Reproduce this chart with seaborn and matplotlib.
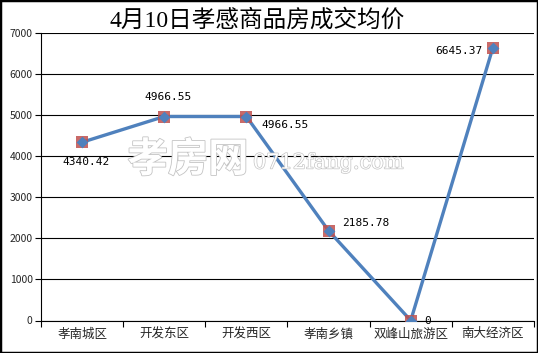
import matplotlib
matplotlib.use("Agg")
import matplotlib.pyplot as plt
import matplotlib.patheffects as pe
from matplotlib.patches import Rectangle
import seaborn as sns
import pandas as pd

categories = ["孝南城区", "开发东区", "开发西区", "孝南乡镇", "双峰山旅游区", "南大经济区"]
prices = [4340.42, 4966.55, 4966.55, 2185.78, 0, 6645.37]
label_texts = ["4340.42", "4966.55", "4966.55", "2185.78", "0", "6645.37"]
y_ticks = [0, 1000, 2000, 3000, 4000, 5000, 6000, 7000]
title = "4月10日孝感商品房成交均价"

sns.set_theme(style="white")
plt.rcParams['font.family'] = ['Noto Sans CJK SC', 'DejaVu Sans']

df = pd.DataFrame({"pos": range(len(categories)), "price": prices, "cat": categories})

fig = plt.figure(figsize=(5.38, 3.53), dpi=100)
fig.patch.set_facecolor("white")
ax = fig.add_axes([41/538, 1-320.5/353, 493/538, 287.5/353])
ax.set_facecolor("white")

# watermark
fig.text(188/538, 1-160/353, "孝房网", fontsize=29, fontweight="bold", color="white",
         ha="center", va="center", zorder=0.5,
         path_effects=[pe.withStroke(linewidth=1.2, foreground="#c4c4c4")])
fig.text(253/538, 1-163/353, "0712fang.com", fontsize=15, color="white",
         family=["DejaVu Serif"], ha="left", va="center", zorder=0.5,
         path_effects=[pe.withStroke(linewidth=1.0, foreground="#c4c4c4")])

for y in y_ticks:
    ax.axhline(y, color="black", lw=0.8, zorder=1)

sns.lineplot(data=df, x="pos", y="price", sort=False, color="#4F81BD", lw=2.4,
             ax=ax, zorder=3, legend=False)
ax.scatter(df["pos"], df["price"], marker="s", s=70, color="#C0504D", alpha=0.85,
           zorder=4, linewidths=0)
ax.scatter(df["pos"], df["price"], marker="D", s=36, color="#4F81BD", zorder=5,
           linewidths=0)

offsets = [(4, -20), (4, 20), (39, -8), (37, 8), (17, 0), (-34, -3)]
for i, (txt, off) in enumerate(zip(label_texts, offsets)):
    ax.annotate(txt, (i, prices[i]), xytext=off, textcoords="offset pixels",
                ha="center", va="center", fontsize=8, family=["DejaVu Sans Mono"],
                color="black", zorder=6)

ax.set_xlim(-0.5, len(categories) - 0.5)
ax.set_ylim(0, 7000)
ax.set_yticks(y_ticks)
ax.set_yticklabels([str(v) for v in y_ticks], fontsize=7.5)
ax.set_xticks([i - 0.5 for i in range(len(categories) + 1)])
ax.set_xticklabels([])
ax.set_xticks(range(len(categories)), minor=True)
ax.set_xticklabels(categories, minor=True, fontsize=9)
ax.tick_params(axis="x", which="major", direction="out", length=4, width=0.8,
               color="black", bottom=True)
ax.tick_params(axis="x", which="minor", length=0, pad=5, bottom=True)
ax.tick_params(axis="y", direction="out", length=4, width=0.8, color="black",
               left=True, pad=2)
ax.set_xlabel("")
ax.set_ylabel("")
for s in ["top", "right"]:
    ax.spines[s].set_visible(False)
for s in ["left", "bottom"]:
    ax.spines[s].set_color("black")
    ax.spines[s].set_linewidth(0.8)

fig.text(257/538, 1-20/353, title, fontsize=17, fontweight="medium",
         family=["Liberation Serif", "Noto Sans CJK SC"],
         ha="center", va="center", color="black")

fig.patches.append(Rectangle((0, 0), 1, 1, transform=fig.transFigure, fill=False,
                             edgecolor="black", lw=2.5, zorder=10))

fig.savefig("out.png", dpi=100)
